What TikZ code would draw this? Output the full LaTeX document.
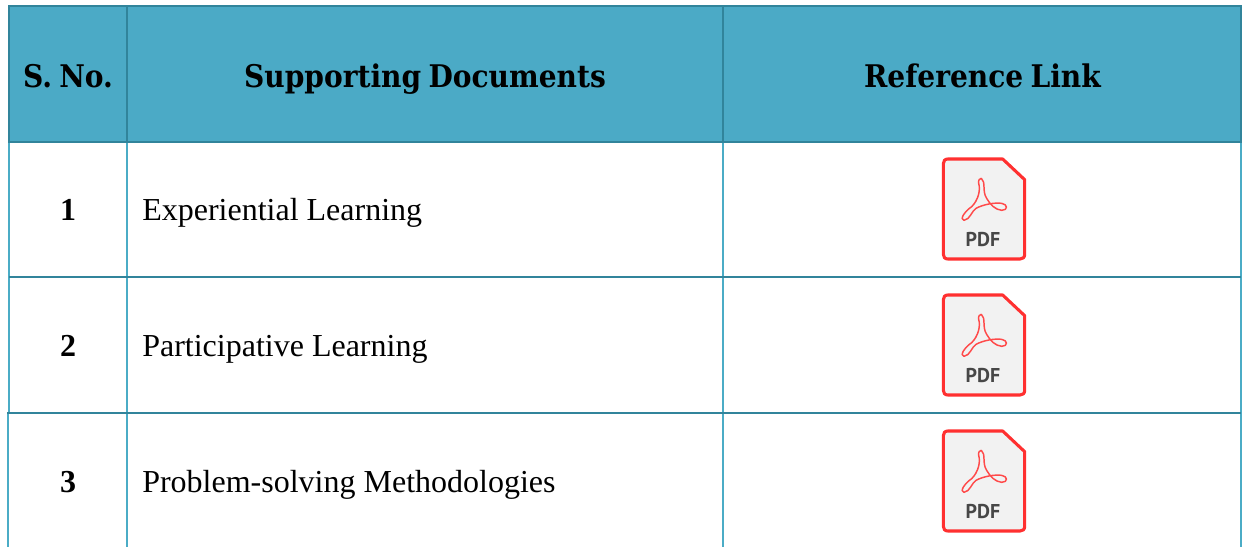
\documentclass[tikz,border=0pt]{standalone}
\usepackage{fontspec}
\setmainfont{Liberation Serif}
\newfontfamily\headfont[WordSpace=0.75]{DejaVu Serif Condensed}
\newfontfamily\iconfont{PT Sans}
\definecolor{headfill}{HTML}{4BAAC6}
\definecolor{headline}{HTML}{31849B}
\definecolor{bodyline}{HTML}{4BACC6}
\definecolor{iconred}{HTML}{FF3030}
\definecolor{logored}{HTML}{FF4A4A}
\tikzset{
  x=0.75pt,y=-0.75pt,
  headtext/.style={anchor=base,inner sep=0pt,font=\headfont\fontsize{23.4}{30}\selectfont\bfseries,text=black},
  numtext/.style={anchor=base,inner sep=0pt,font=\fontsize{24}{29}\selectfont\bfseries,text=black},
  celltext/.style={anchor=base west,inner sep=0pt,font=\fontsize{24}{29}\selectfont,text=black},
  headrule/.style={draw=headline,line width=1.6pt},
  rowrule/.style={draw=headline,line width=1.5pt},
  colrule/.style={draw=bodyline,line width=1.3pt},
  pics/pdficon/.style={code={
    \begin{scope}[x=0.25pt,y=-0.25pt]
      \draw[draw=iconred,fill=black!5,line width=2.3pt,line join=round]
        (84,42) -- (248,42) -- (314,104) -- (314,328)
        .. controls (314,338) and (308,342) .. (300,342) -- (84,342)
        .. controls (74,342) and (70,336) .. (70,328) -- (70,56)
        .. controls (70,48) and (74,42) .. (84,42) -- cycle;
      \draw[draw=logored,line width=1.1pt,line join=round]
        (184,100) .. controls (198,110) and (186,140) .. (200,160)
        .. controls (210,178) and (225,194) .. (245,196)
        .. controls (264,196) and (264,178) .. (245,175)
        .. controls (225,172) and (190,178) .. (168,190)
        .. controls (155,198) and (150,224) .. (132,226)
        .. controls (118,224) and (133,200) .. (155,185)
        .. controls (175,165) and (182,135) .. (176,115)
        .. controls (175,105) and (178,100) .. (184,100) -- cycle;
      \node[inner sep=0pt,text=black!72,font=\iconfont\fontsize{15}{18}\selectfont\bfseries] at (189,284) {PDF};
    \end{scope}
  }}
}
\begin{document}
\begin{tikzpicture}
\useasboundingbox (0,0) rectangle (1242,547);
\fill[white] (0,0) rectangle (1242,547);
% header
\fill[headfill] (9,6) rectangle (1241,142);
% body vertical rules
\foreach \cx in {9,127,723,1241}{
  \draw[colrule] (\cx,142) -- (\cx,413);
}
\foreach \cx in {8,127,723,1241}{
  \draw[colrule] (\cx,413) -- (\cx,547);
}
% horizontal rules
\draw[rowrule] (9,277) -- (1241,277);
\draw[rowrule] (7,413) -- (1241,413);
% header rules
\draw[headrule] (9,6) rectangle (1241,142);
\draw[headrule] (127,6) -- (127,142);
\draw[headrule] (723,6) -- (723,142);
% header text
\node[headtext] (h1) at (68,87) {S. No.};
\node[headtext] (h2) at (425,87) {Supporting Documents};
\node[headtext] (h3) at (982.5,87) {Reference Link};
% rows
\node[numtext] (n1) at (68,220) {1};
\node[numtext] (n2) at (68,356) {2};
\node[numtext] (n3) at (68,492) {3};
\node[celltext] (t1) at (142,220) {Experiential Learning};
\node[celltext] (t2) at (142,356) {Participative Learning};
\node[celltext] (t3) at (142,492) {Problem-solving Methodologies};
% icons
\pic at (920,145) {pdficon};
\pic at (920,281) {pdficon};
\pic at (920,417) {pdficon};
\end{tikzpicture}
\end{document}
